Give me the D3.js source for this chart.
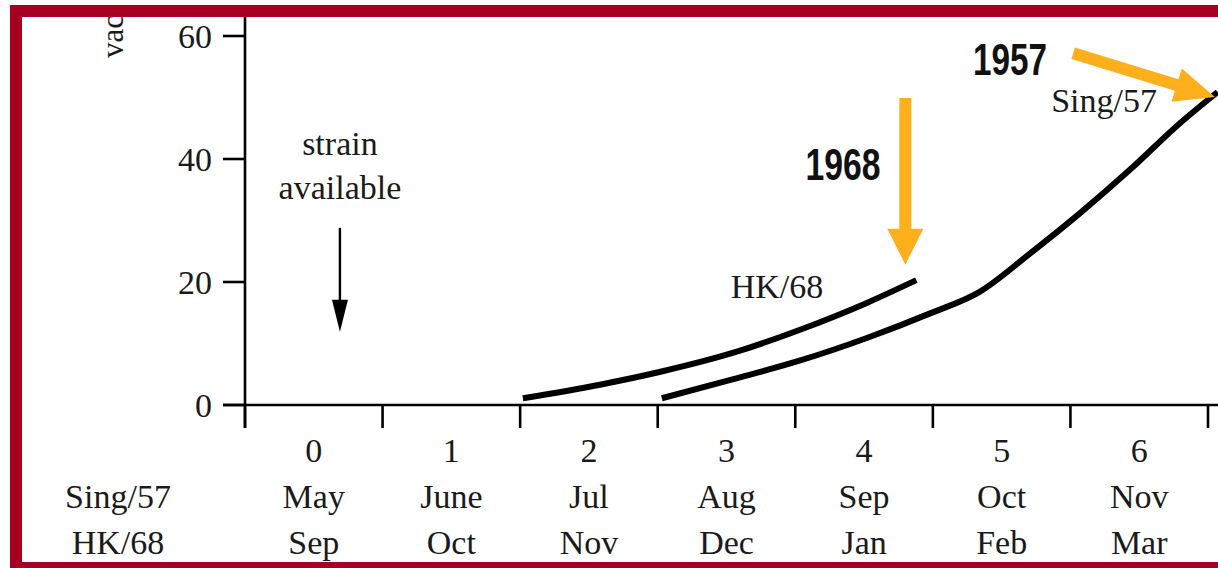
<!DOCTYPE html>
<html lang="en">
<head>
    <meta charset="UTF-8">
    <title>Vaccine availability: Sing/57 vs HK/68</title>
    <script src="https://d3js.org/d3.v7.min.js"></script>
    <style>
        body {
            margin: 0;
            background-color: white;
        }
        svg { display: block; }
        .serif {
            font-family: "Liberation Serif", "Times New Roman", serif;
            font-size: 34px;
            fill: #1a1a1a;
        }
        .year {
            font-family: "Liberation Sans Narrow", "Arial Narrow", "Liberation Sans", Arial, sans-serif;
            font-weight: bold;
            font-size: 44px;
            fill: #111;
        }
    </style>
</head>
<body>
    <div id="chart"></div>

    <script>
        // months since strain available (x axis)
        const monthIndex = [0, 1, 2, 3, 4, 5, 6];
        const monthsSing57 = ["May", "June", "Jul", "Aug", "Sep", "Oct", "Nov"];
        const monthsHK68 = ["Sep", "Oct", "Nov", "Dec", "Jan", "Feb", "Mar"];
        const yTicks = [0, 20, 40, 60];

        // vaccine doses (millions)
        const hkMonth = [2.02, 2.58, 3.02, 3.55, 4.03, 4.52, 4.88];
        const hkDoses = [1.1, 3.3, 5.4, 8.5, 12.2, 16.6, 20.3];
        const singMonth = [3.03, 3.55, 4.03, 4.52, 4.98, 5.34, 5.71, 6.07, 6.43, 6.80, 7.07];
        const singDoses = [1.1, 4.2, 7.2, 10.9, 14.9, 18.4, 24.7, 31.2, 38.2, 45.9, 50.9];

        const width = 1218, height = 568;

        const svg = d3.select("#chart")
            .append("svg")
            .attr("width", width)
            .attr("height", height);

        // everything inside the frame is clipped to it
        svg.append("clipPath").attr("id", "inside")
            .append("rect")
            .attr("x", 22).attr("y", 17)
            .attr("width", width).attr("height", 545);
        const g = svg.append("g").attr("clip-path", "url(#inside)");

        const x = d3.scaleLinear().domain([0, 7]).range([245, 1208]);
        const y = d3.scaleLinear().domain([0, 60]).range([405, 36]);

        // y axis label, mostly hidden behind the frame
        g.append("text")
            .attr("class", "serif")
            .attr("transform", "translate(123,58) rotate(-90)")
            .style("font-size", "31px")
            .text("vaccine doses (millions)");

        // y axis
        const yAxis = g.append("g");
        yAxis.append("line")
            .attr("x1", x(0)).attr("x2", x(0))
            .attr("y1", 0).attr("y2", y(0) + 23)
            .attr("stroke", "black").attr("stroke-width", 2.6);
        yAxis.selectAll(".ytick")
            .data(yTicks)
            .enter()
            .append("line")
            .attr("x1", x(0) - 22).attr("x2", x(0))
            .attr("y1", d => y(d)).attr("y2", d => y(d))
            .attr("stroke", "black").attr("stroke-width", 2.6);
        yAxis.selectAll(".ylab")
            .data(yTicks)
            .enter()
            .append("text")
            .attr("class", "serif")
            .attr("x", x(0) - 33)
            .attr("y", d => y(d) + 12)
            .attr("text-anchor", "end")
            .text(d => d);

        // x axis
        const xAxis = g.append("g");
        xAxis.append("line")
            .attr("x1", x(0) - 22).attr("x2", width)
            .attr("y1", y(0)).attr("y2", y(0))
            .attr("stroke", "black").attr("stroke-width", 2.6);
        xAxis.selectAll(".xtick")
            .data(d3.range(0, 8))
            .enter()
            .append("line")
            .attr("x1", d => x(d)).attr("x2", d => x(d))
            .attr("y1", y(0)).attr("y2", y(0) + 23)
            .attr("stroke", "black").attr("stroke-width", 2.6);

        xAxis.selectAll(".xnum")
            .data(monthIndex)
            .enter()
            .append("text")
            .attr("class", "serif")
            .attr("x", d => x(d + 0.5))
            .attr("y", 462)
            .attr("text-anchor", "middle")
            .text(d => d);
        xAxis.selectAll(".xsing")
            .data(monthsSing57)
            .enter()
            .append("text")
            .attr("class", "serif")
            .attr("x", (d, i) => x(monthIndex[i] + 0.5))
            .attr("y", 508)
            .attr("text-anchor", "middle")
            .text(d => d);
        xAxis.selectAll(".xhk")
            .data(monthsHK68)
            .enter()
            .append("text")
            .attr("class", "serif")
            .attr("x", (d, i) => x(monthIndex[i] + 0.5))
            .attr("y", 554)
            .attr("text-anchor", "middle")
            .text(d => d);
        g.append("text").attr("class", "serif")
            .attr("x", 118).attr("y", 508).attr("text-anchor", "middle").text("Sing/57");
        g.append("text").attr("class", "serif")
            .attr("x", 118).attr("y", 554).attr("text-anchor", "middle").text("HK/68");

        // curves
        const line = d3.line()
            .x(d => x(d[0]))
            .y(d => y(d[1]))
            .curve(d3.curveMonotoneX);

        g.append("path")
            .datum(hkMonth.map((m, i) => [m, hkDoses[i]]))
            .attr("d", line)
            .attr("fill", "none")
            .attr("stroke", "black")
            .attr("stroke-width", 6);
        g.append("path")
            .datum(singMonth.map((m, i) => [m, singDoses[i]]))
            .attr("d", line)
            .attr("fill", "none")
            .attr("stroke", "black")
            .attr("stroke-width", 6);

        g.append("text").attr("class", "serif")
            .attr("x", x(3.53)).attr("y", y(17.4)).text("HK/68");
        g.append("text").attr("class", "serif")
            .attr("x", x(5.86)).attr("y", y(47.6)).text("Sing/57");

        // "strain available" note with black arrow
        g.append("text").attr("class", "serif")
            .attr("x", x(0.69)).attr("y", y(40.6)).attr("text-anchor", "middle").text("strain");
        g.append("text").attr("class", "serif")
            .attr("x", x(0.69)).attr("y", y(33.5)).attr("text-anchor", "middle").text("available");

        const blackTail = [0.69, 28.8], blackTip = [0.69, 11.9];
        const bx = x(blackTail[0]), by0 = y(blackTail[1]), by1 = y(blackTip[1]);
        g.append("line")
            .attr("x1", bx).attr("x2", bx)
            .attr("y1", by0).attr("y2", by1 - 30)
            .attr("stroke", "black").attr("stroke-width", 2.4);
        g.append("path")
            .attr("d", `M${bx - 8},${by1 - 32}L${bx + 8},${by1 - 32}L${bx},${by1}Z`)
            .attr("fill", "black");

        // orange arrows (tail -> tip in data units)
        const orange = "#FDB01B";
        function orangeArrow(tail, tip, shaftW, headL, headW) {
            const x0 = x(tail[0]), y0 = y(tail[1]);
            const x1 = x(tip[0]), y1 = y(tip[1]);
            const len = Math.hypot(x1 - x0, y1 - y0);
            const ang = Math.atan2(y1 - y0, x1 - x0) * 180 / Math.PI;
            const s = shaftW / 2, h = headW / 2, b = len - headL;
            const pts = [[0, -s], [b, -s], [b, -h], [len, 0], [b, h], [b, s], [0, s]];
            g.append("polygon")
                .attr("points", pts.map(p => p.join(",")).join(" "))
                .attr("transform", `translate(${x0},${y0}) rotate(${ang})`)
                .attr("fill", orange);
        }
        orangeArrow([4.80, 49.9], [4.80, 22.8], 12, 36, 36);
        orangeArrow([6.02, 57.2], [7.05, 50.1], 12, 40, 35);

        g.append("text").attr("class", "year")
            .attr("x", x(4.62)).attr("y", y(36.6))
            .attr("text-anchor", "end")
            .attr("textLength", 75).attr("lengthAdjust", "spacingAndGlyphs")
            .text("1968");
        g.append("text").attr("class", "year")
            .attr("x", x(5.83)).attr("y", y(53.7))
            .attr("text-anchor", "end")
            .attr("textLength", 74).attr("lengthAdjust", "spacingAndGlyphs")
            .text("1957");

        // dark red frame
        svg.append("rect")
            .attr("x", 16).attr("y", 11)
            .attr("width", width + 50).attr("height", 557)
            .attr("fill", "none")
            .attr("stroke", "#A50021")
            .attr("stroke-width", 12);
    </script>
</body>
</html>
